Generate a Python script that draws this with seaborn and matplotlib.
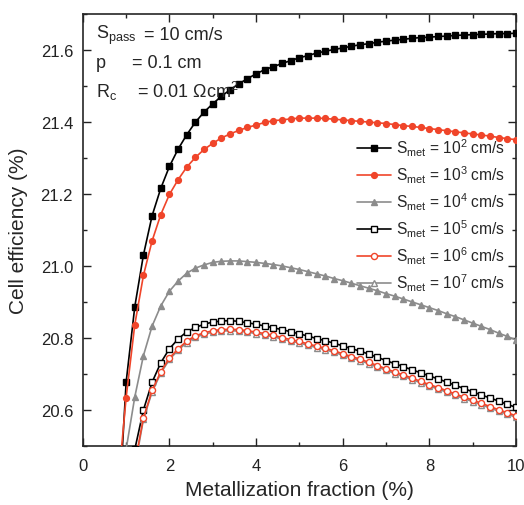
import matplotlib
matplotlib.use("Agg")
import matplotlib.pyplot as plt
import numpy as np
import pandas as pd
import seaborn as sns

# metallization fraction (%)
frac = [0.8, 1.0, 1.2, 1.4, 1.6, 1.8, 2.0, 2.2, 2.4, 2.6, 2.8, 3.0, 3.2, 3.4, 3.6, 3.8,
        4.0, 4.2, 4.4, 4.6, 4.8, 5.0, 5.2, 5.4, 5.6, 5.8, 6.0, 6.2, 6.4, 6.6, 6.8, 7.0,
        7.2, 7.4, 7.6, 7.8, 8.0, 8.2, 8.4, 8.6, 8.8, 9.0, 9.2, 9.4, 9.6, 9.8, 10.0]

nan = np.nan
eff_1e2 = [20.25, 20.677, 20.887, 21.031, 21.140, 21.216, 21.277, 21.325, 21.365, 21.400,
           21.428, 21.451, 21.472, 21.490, 21.506, 21.521, 21.534, 21.546, 21.554, 21.563,
           21.571, 21.579, 21.585, 21.592, 21.597, 21.602, 21.606, 21.611, 21.615, 21.618,
           21.622, 21.625, 21.628, 21.630, 21.633, 21.635, 21.636, 21.638, 21.639, 21.641,
           21.642, 21.643, 21.644, 21.645, 21.646, 21.646, 21.647]
eff_1e3 = [20.37, 20.634, 20.837, 20.974, 21.070, 21.143, 21.199, 21.240, 21.275, 21.302,
           21.324, 21.341, 21.356, 21.367, 21.377, 21.385, 21.392, 21.399, 21.404, 21.406,
           21.409, 21.411, 21.411, 21.411, 21.410, 21.408, 21.406, 21.404, 21.402, 21.400,
           21.398, 21.396, 21.393, 21.390, 21.388, 21.385, 21.382, 21.379, 21.376, 21.373,
           21.370, 21.367, 21.364, 21.361, 21.357, 21.354, 21.351]
eff_1e4 = [nan, 20.49, 20.636, 20.751, 20.833, 20.889, 20.930, 20.958, 20.980, 20.994,
           21.003, 21.010, 21.013, 21.014, 21.014, 21.012, 21.010, 21.007, 21.004, 21.000,
           20.995, 20.990, 20.984, 20.978, 20.972, 20.965, 20.959, 20.952, 20.945, 20.938,
           20.931, 20.923, 20.916, 20.908, 20.900, 20.892, 20.884, 20.876, 20.867, 20.859,
           20.850, 20.841, 20.832, 20.823, 20.813, 20.804, 20.794]
eff_1e5 = [nan, nan, 20.49, 20.600, 20.677, 20.731, 20.770, 20.797, 20.817, 20.829,
           20.838, 20.844, 20.847, 20.848, 20.846, 20.842, 20.838, 20.833, 20.828, 20.823,
           20.817, 20.811, 20.805, 20.798, 20.792, 20.785, 20.778, 20.770, 20.763, 20.755,
           20.746, 20.737, 20.728, 20.720, 20.711, 20.703, 20.694, 20.686, 20.677, 20.668,
           20.659, 20.650, 20.641, 20.633, 20.624, 20.615, 20.607]
eff_1e6 = [nan, nan, 20.45, 20.578, 20.654, 20.706, 20.744, 20.770, 20.791, 20.806,
           20.814, 20.820, 20.823, 20.824, 20.823, 20.820, 20.816, 20.812, 20.807, 20.801,
           20.795, 20.790, 20.783, 20.777, 20.771, 20.764, 20.756, 20.748, 20.741, 20.732,
           20.723, 20.714, 20.705, 20.697, 20.688, 20.679, 20.670, 20.662, 20.653, 20.644,
           20.635, 20.627, 20.618, 20.609, 20.600, 20.592, 20.583]
eff_1e7 = [nan, nan, 20.44, 20.574, 20.650, 20.702, 20.740, 20.766, 20.787, 20.802,
           20.810, 20.816, 20.819, 20.820, 20.819, 20.816, 20.812, 20.808, 20.803, 20.797,
           20.791, 20.786, 20.779, 20.773, 20.767, 20.760, 20.752, 20.744, 20.737, 20.728,
           20.719, 20.710, 20.701, 20.693, 20.684, 20.675, 20.666, 20.658, 20.649, 20.640,
           20.631, 20.623, 20.614, 20.605, 20.596, 20.588, 20.579]

exponents = [2, 3, 4, 5, 6, 7]
series = [eff_1e2, eff_1e3, eff_1e4, eff_1e5, eff_1e6, eff_1e7]

RED = "#f0452a"
GRAY = "#8c8c8c"
# colour, marker, filled
styles = {
    2: ("black", "s", True),
    3: (RED, "o", True),
    4: (GRAY, "^", True),
    5: ("black", "s", False),
    6: (RED, "o", False),
    7: (GRAY, "^", False),
}

sns.set_style("ticks")
plt.rcParams["font.family"] = ["Liberation Sans", "DejaVu Sans"]
plt.rcParams["mathtext.fontset"] = "custom"
plt.rcParams["mathtext.rm"] = "Liberation Sans"
plt.rcParams["mathtext.it"] = "Liberation Sans:italic"

fig = plt.figure(figsize=(5.24, 5.06), dpi=100)
ax = fig.add_axes([0.158, 0.117, 0.827, 0.853])


def lbl(e):
    return r"$\mathregular{S_{met}}$ = 10$^{%d}$ cm/s" % e


# draw 10^7 before 10^6 so the red open circles sit on top
for e in [2, 3, 4, 5, 7, 6]:
    vals = series[exponents.index(e)]
    df = pd.DataFrame({"x": frac, "y": vals}).dropna()
    color, marker, filled = styles[e]
    sns.lineplot(data=df, x="x", y="y", ax=ax, color=color, lw=1.2,
                 marker=marker, markersize=4.2 if filled else 4.4,
                 markerfacecolor=color if filled else "white",
                 markeredgecolor=color, markeredgewidth=1.0,
                 label=lbl(e), zorder=3)

h, l = ax.get_legend_handles_labels()
order = [l.index(lbl(e)) for e in exponents]
ax.legend([h[i] for i in order], [l[i] for i in order], loc="upper right",
          bbox_to_anchor=(1.0, 0.742), frameon=False, fontsize=11.2,
          handlelength=2.2, handletextpad=0.3, labelspacing=0.36, borderpad=0.2)

ax.set_xlim(0, 10)
ax.set_ylim(20.5, 21.7)
ax.set_xticks([0, 2, 4, 6, 8, 10])
ax.set_xticks([1, 3, 5, 7, 9], minor=True)
ax.set_yticks([20.6, 20.8, 21.0, 21.2, 21.4, 21.6])
ax.set_yticks([20.5, 20.7, 20.9, 21.1, 21.3, 21.5, 21.7], minor=True)
ax.set_yticklabels(["20.6", "20.8", "21.0", "21.2", "21.4", "21.6"])
ax.tick_params(which="both", direction="in", top=True, right=True, labelsize=12,
               colors="#222222", width=1.0)
ax.tick_params(axis="x", which="major", length=6, pad=9)
ax.tick_params(axis="y", which="major", length=6, pad=7)
ax.tick_params(which="minor", length=3)
for s in ax.spines.values():
    s.set_linewidth(1.2)

ax.set_xlabel("Metallization fraction (%)", fontsize=15, labelpad=5)
ax.set_ylabel("Cell efficiency (%)", fontsize=15, labelpad=9)

# parameter block in the upper left
tkw = dict(transform=ax.transAxes, fontsize=13, va="center", ha="left")
ax.text(0.03, 0.954, r"$\mathregular{S_{pass}}$", **tkw)
ax.text(0.142, 0.954, "= 10 cm/s", **tkw)
ax.text(0.03, 0.889, "p", **tkw)
ax.text(0.113, 0.889, "= 0.1 cm", **tkw)
ax.text(0.03, 0.822, r"$\mathregular{R_c}$", **tkw)
ax.text(0.125, 0.822, r"= 0.01 $\Omega$cm$^{2}$", **tkw)

fig.savefig("out.png", dpi=100)
